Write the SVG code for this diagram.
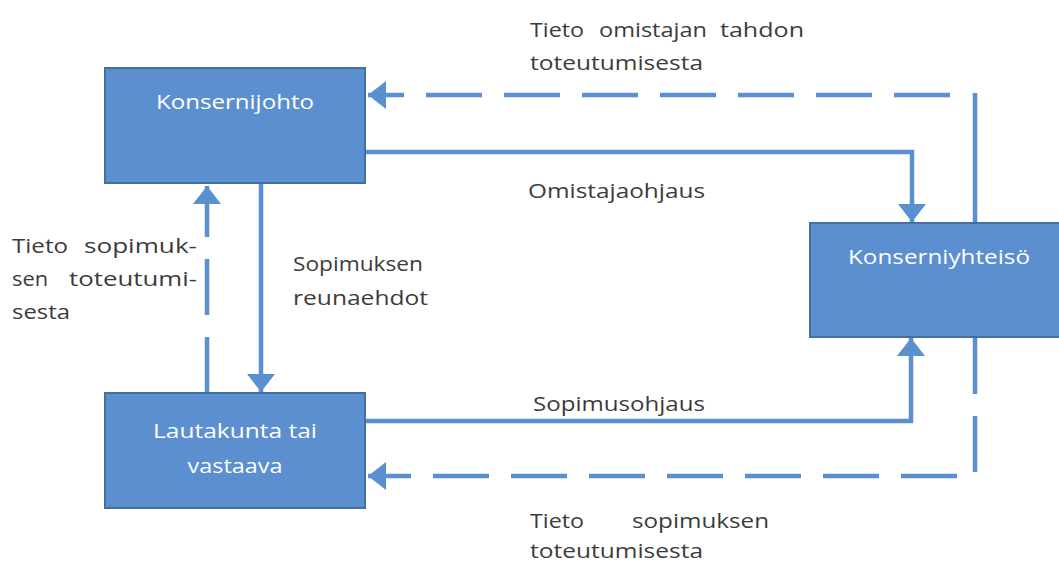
<svg xmlns="http://www.w3.org/2000/svg" width="1059" height="563" viewBox="0 0 1059 563">
<style>
.box{fill:#5b8fd0;stroke:#41719c;stroke-width:2}
.bt{fill:#ffffff;font-family:"Open Sans","Liberation Sans",sans-serif;font-size:20px;text-anchor:middle}
.lbl{fill:#3c3c3c;font-family:"Open Sans","Liberation Sans",sans-serif;font-size:20px}
.ln{fill:none;stroke:#5a8fd0;stroke-width:4.5}
.dash{stroke-dasharray:56 22}
</style>
<defs>
<marker id="ah" markerUnits="userSpaceOnUse" markerWidth="20" markerHeight="30" refX="18" refY="15" orient="auto" viewBox="0 0 20 30">
<path d="M0,1 L18,15 L0,29 Z" fill="#5a8fd0"/>
</marker>
</defs>
<rect width="1059" height="563" fill="#ffffff"/>
<g id="connectors">
<path class="ln" d="M975,222 L975,93"/>
<path class="ln dash" d="M950,95 L368,95" marker-end="url(#ah)"/>
<path class="ln" d="M366,152 L912,152 L912,222" marker-end="url(#ah)"/>
<path class="ln" d="M366,421 L911,421 L911,338" marker-end="url(#ah)"/>
<path class="ln dash" d="M975,338 L975,476 L368,476" marker-end="url(#ah)"/>
<path class="ln" d="M261,184 L261,392" marker-end="url(#ah)"/>
<path class="ln dash" d="M207,393 L207,186" marker-end="url(#ah)"/>
</g>
<g id="konsernijohto">
<rect class="box" x="105" y="68" width="260" height="115"/>
<text class="bt" x="235" y="109" textLength="158" lengthAdjust="spacingAndGlyphs">Konsernijohto</text>
</g>
<g id="konserniyhteiso">
<rect class="box" x="810" y="223" width="252" height="114"/>
<text class="bt" x="939" y="264" textLength="182" lengthAdjust="spacingAndGlyphs">Konserniyhteisö</text>
</g>
<g id="lautakunta">
<rect class="box" x="105" y="393" width="260" height="115"/>
<text class="bt" x="235" y="438" textLength="164" lengthAdjust="spacingAndGlyphs">Lautakunta tai</text>
<text class="bt" x="235" y="473" textLength="95" lengthAdjust="spacingAndGlyphs">vastaava</text>
</g>
<g id="labels">
<text class="lbl" x="530" y="37" textLength="54" lengthAdjust="spacingAndGlyphs">Tieto</text>
<text class="lbl" x="599" y="37" textLength="108" lengthAdjust="spacingAndGlyphs">omistajan</text>
<text class="lbl" x="720" y="37" textLength="84" lengthAdjust="spacingAndGlyphs">tahdon</text>
<text class="lbl" x="530" y="70" textLength="173" lengthAdjust="spacingAndGlyphs">toteutumisesta</text>
<text class="lbl" x="528" y="198" textLength="177" lengthAdjust="spacingAndGlyphs">Omistajaohjaus</text>
<text class="lbl" x="293" y="271" textLength="130" lengthAdjust="spacingAndGlyphs">Sopimuksen</text>
<text class="lbl" x="293" y="305" textLength="135" lengthAdjust="spacingAndGlyphs">reunaehdot</text>
<text class="lbl" x="12" y="253" textLength="56" lengthAdjust="spacingAndGlyphs">Tieto</text>
<text class="lbl" x="84" y="253" textLength="113" lengthAdjust="spacingAndGlyphs">sopimuk-</text>
<text class="lbl" x="12" y="286" textLength="36" lengthAdjust="spacingAndGlyphs">sen</text>
<text class="lbl" x="69" y="286" textLength="128" lengthAdjust="spacingAndGlyphs">toteutumi-</text>
<text class="lbl" x="12" y="319" textLength="58" lengthAdjust="spacingAndGlyphs">sesta</text>
<text class="lbl" x="533" y="411" textLength="172" lengthAdjust="spacingAndGlyphs">Sopimusohjaus</text>
<text class="lbl" x="530" y="528" textLength="54" lengthAdjust="spacingAndGlyphs">Tieto</text>
<text class="lbl" x="632" y="528" textLength="137" lengthAdjust="spacingAndGlyphs">sopimuksen</text>
<text class="lbl" x="530" y="558" textLength="173" lengthAdjust="spacingAndGlyphs">toteutumisesta</text>
</g>
</svg>
